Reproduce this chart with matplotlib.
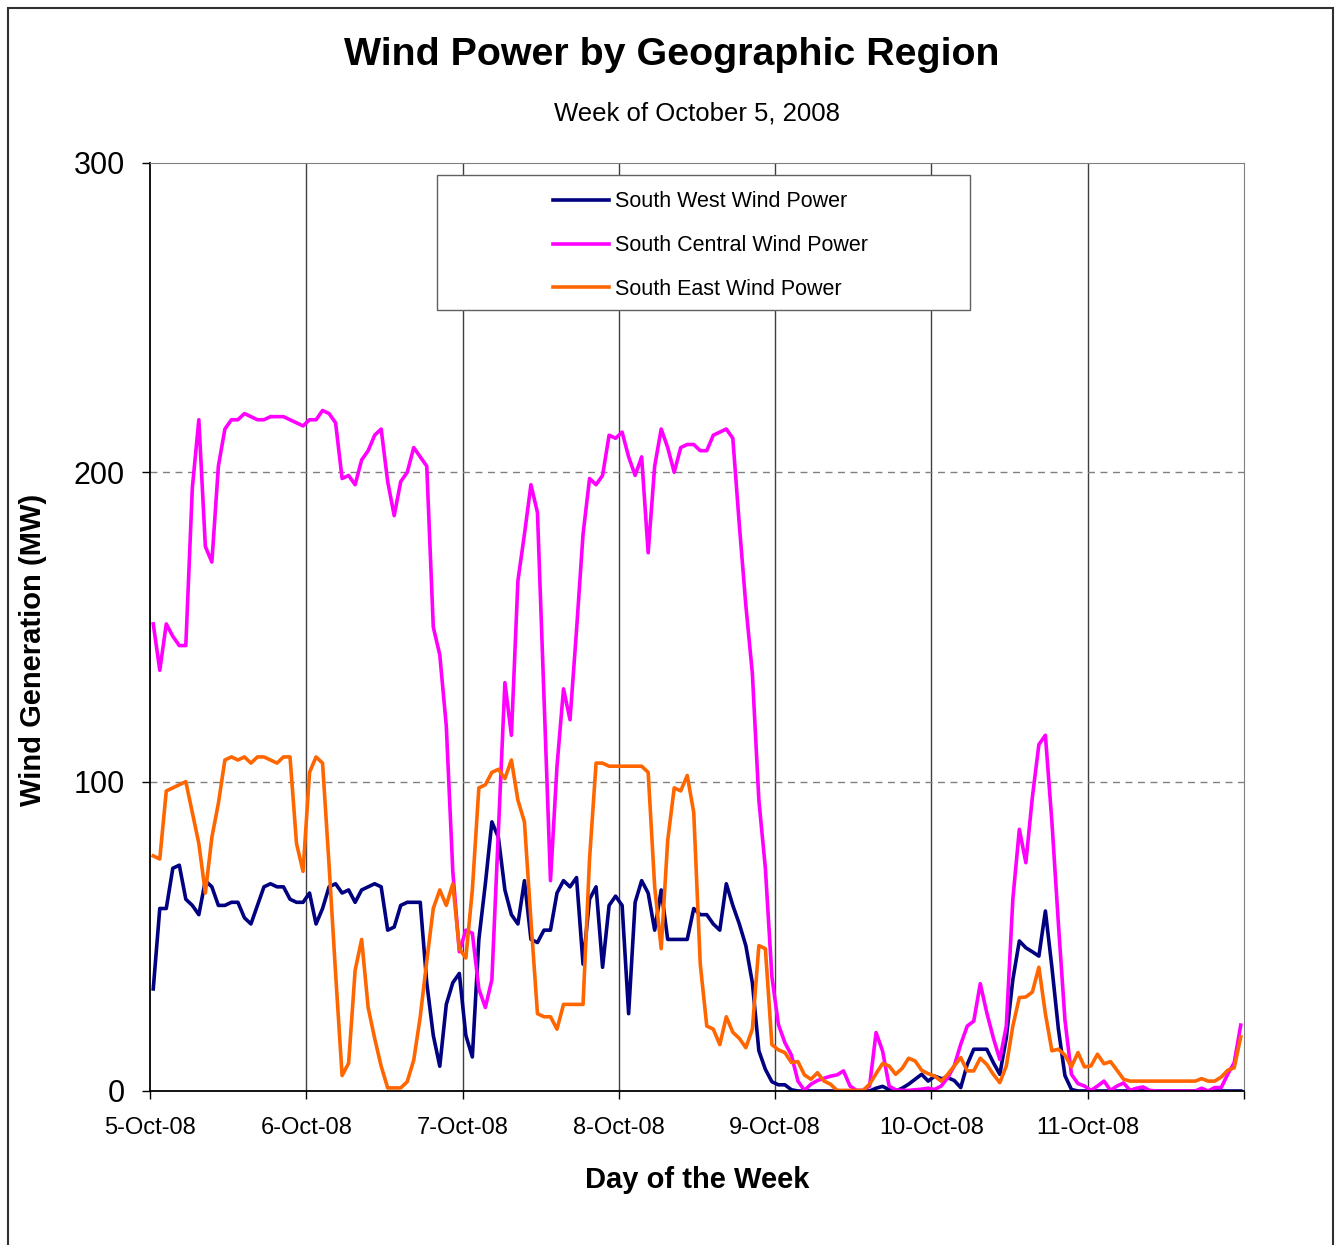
import numpy as np
import matplotlib
matplotlib.use("Agg")
from matplotlib import pyplot as plt
from matplotlib.patches import Rectangle

plt.rcParams['font.family'] = ['Liberation Sans', 'DejaVu Sans']

day_labels = ['5-Oct-08', '6-Oct-08', '7-Oct-08', '8-Oct-08', '9-Oct-08', '10-Oct-08', '11-Oct-08']

# hourly values (MW), one row of 24 per day
south_west = [
    33, 59, 59, 72, 73, 62, 60, 57, 68, 66, 60, 60, 61, 61, 56, 54, 60, 66, 67, 66, 66, 62, 61, 61,
    64, 54, 59, 66, 67, 64, 65, 61, 65, 66, 67, 66, 52, 53, 60, 61, 61, 61, 35, 18, 8, 28, 35, 38,
    18, 11, 49, 67, 87, 82, 65, 57, 54, 68, 49, 48, 52, 52, 64, 68, 66, 69, 41, 62, 66, 40, 60, 63,
    60, 25, 61, 68, 64, 52, 65, 49, 49, 49, 49, 59, 57, 57, 54, 52, 67, 60, 54, 47, 35, 13, 7, 3,
    2, 2, 0.4, 0, 0, 0, 0, 0, 0, 0, 0, 0, 0, 0, 0, 0.9, 1.5, 0.4, 0, 0.9, 2.2, 3.8, 5.4, 3.2,
    4.8, 4, 4.3, 3.4, 1.1, 8.6, 13.5, 13.5, 13.5, 9.2, 5.4, 17.2, 36, 48.5, 46.3, 45, 43.6, 58.2, 40, 20, 5, 0.5, 0, 0,
    0, 0, 0, 0, 0, 0, 0, 0, 0, 0, 0, 0, 0, 0, 0, 0, 0, 0, 0, 0, 0, 0, 0, 0,
]
south_central = [
    151, 136, 151, 147, 144, 144, 195, 217, 176, 171, 202, 214, 217, 217, 219, 218, 217, 217, 218, 218, 218, 217, 216, 215,
    217, 217, 220, 219, 216, 198, 199, 196, 204, 207, 212, 214, 197, 186, 197, 200, 208, 205, 202, 150, 141, 118, 71, 45,
    52, 51, 33, 27, 36, 84, 132, 115, 165, 180, 196, 187, 128, 68, 105, 130, 120, 149, 180, 198, 196, 199, 212, 211,
    213, 205, 199, 205, 174, 202, 214, 208, 200, 208, 209, 209, 207, 207, 212, 213, 214, 211, 183, 157, 135, 94, 72, 37,
    21.5, 15.6, 11.6, 3.2, 0.2, 2.2, 3.4, 4.1, 4.8, 5.2, 6.5, 1.6, 0.2, 0.2, 1.6, 18.9, 12.9, 1.6, 0.4, 0.2, 0.2, 0.4, 0.6, 0.9,
    0.5, 1.6, 4.3, 8.1, 15.1, 21, 22.6, 34.7, 25.3, 17.2, 10.2, 21, 62, 84.6, 73.8, 95, 112, 115, 87, 54, 23, 5.4, 2.4, 1.6,
    0.2, 1.6, 3.2, 0.2, 1.6, 2.6, 0.2, 0.9, 1.3, 0.2, 0, 0, 0, 0, 0, 0, 0, 0.9, 0, 1.1, 1.1, 5.4, 9.2, 21.3,
]
south_east = [
    76, 75, 97, 98, 99, 100, 90, 80, 64, 82, 93, 107, 108, 107, 108, 106, 108, 108, 107, 106, 108, 108, 80, 71,
    103, 108, 106, 73, 38, 5, 9, 39, 49, 27, 17, 8, 1, 1, 1, 3, 10, 24, 42, 59, 65, 60, 67, 46,
    43, 65, 98, 99, 103, 104, 101, 107, 94, 87, 55, 25, 24, 24, 20, 28, 28, 28, 28, 75, 106, 106, 105, 105,
    105, 105, 105, 105, 103, 66, 46, 81, 98, 97, 102, 90, 41, 21, 20, 15, 24, 19, 17, 14, 20, 47, 46, 15,
    13.3, 12.4, 9.2, 9.5, 5.2, 3.8, 5.9, 3.2, 2.2, 0.2, 0.2, 0.2, 0.2, 0.2, 2.2, 5.6, 8.9, 8.1, 5.4, 7.3, 10.6, 9.7, 6.7, 5.6,
    4.8, 3.2, 5.4, 8.1, 10.8, 6.5, 6.5, 10.6, 8.6, 5.4, 2.7, 8.1, 21, 30.2, 30.4, 32, 40, 25, 13, 13.5, 11.6, 7.8, 12.4, 7.8,
    8.1, 11.9, 8.8, 9.5, 6.7, 3.8, 3.2, 3.2, 3.2, 3.2, 3.2, 3.2, 3.2, 3.2, 3.2, 3.2, 3.2, 4, 3.2, 3.2, 4.5, 6.7, 7.5, 17.5,
]

hours = (np.arange(len(south_west)) + 0.5) / 24.0

W, H = 1335, 1245
fig = plt.figure(figsize=(W / 100, H / 100), dpi=100)
fig.patch.set_facecolor('white')
ax = fig.add_axes([150 / W, 1 - 1091 / H, 1094 / W, 928 / H])

ax.plot(hours, south_west, color='#000080', lw=2.6, label='South West Wind Power', zorder=2)
ax.plot(hours, south_central, color='#FF00FF', lw=2.6, label='South Central Wind Power', zorder=2)
ax.plot(hours, south_east, color='#FF6600', lw=2.6, label='South East Wind Power', zorder=2)

ax.set_xlim(0, 7)
ax.set_ylim(0, 300)
ax.set_yticks([0, 100, 200, 300])
ax.set_xticks(range(8))
ax.set_xticklabels(day_labels + [''])
ax.tick_params(axis='y', labelsize=22, length=6, width=1, direction='out', pad=12)
ax.tick_params(axis='x', labelsize=17, length=6, width=1, direction='out', pad=13)

for d in range(1, 7):
    ax.axvline(d, color='#404040', lw=1, zorder=0)
for v in (100, 200):
    ax.axhline(v, color='#808080', lw=1, ls=(0, (5, 4)), zorder=0)

ax.spines['left'].set_color('black')
ax.spines['bottom'].set_color('black')
ax.spines['left'].set_linewidth(1.3)
ax.spines['bottom'].set_linewidth(1.3)
ax.spines['top'].set_color('#808080')
ax.spines['right'].set_color('#808080')

# legend box
ax.add_patch(Rectangle((287 / 1094, 781 / 928), 533 / 1094, 135 / 928, transform=ax.transAxes,
                       facecolor='white', edgecolor='#606060', lw=1, zorder=3))
leg = ax.legend(loc='center', bbox_to_anchor=(0.5125, 0.911), frameon=False, fontsize=15.5,
                handlelength=2.6, handletextpad=0.25, labelspacing=1.05)
leg.set_zorder(4)

fig.text(672 / W, 1 - 55 / H, 'Wind Power by Geographic Region', ha='center', va='center',
         fontsize=28.4, fontweight='bold')
fig.text(697 / W, 1 - 114 / H, 'Week of October 5, 2008', ha='center', va='center', fontsize=18.5)
fig.text(697 / W, 1 - 1180 / H, 'Day of the Week', ha='center', va='center', fontsize=21, fontweight='bold')
fig.text(33 / W, 1 - 650 / H, 'Wind Generation (MW)', ha='center', va='center', rotation=90,
         fontsize=21, fontweight='bold')

fig.add_artist(Rectangle((8 / W, -0.01), (1333 - 8) / W, (H - 8) / H + 0.01, transform=fig.transFigure,
                         fill=False, edgecolor='#303030', lw=1.5))

fig.savefig('out.png', dpi=100)
